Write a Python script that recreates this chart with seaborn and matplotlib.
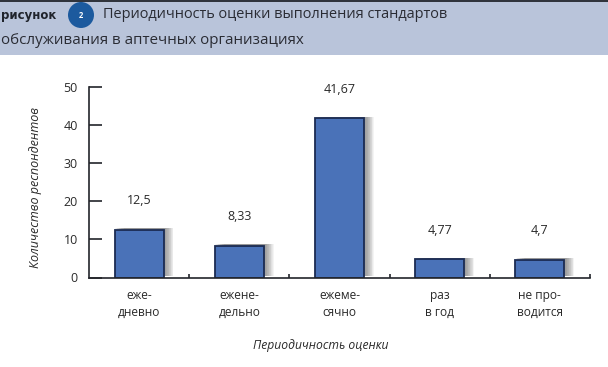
import matplotlib
matplotlib.use("Agg")
import matplotlib.pyplot as plt
import matplotlib.patheffects as pe
from matplotlib.patches import Rectangle, Circle
from matplotlib.ticker import FixedLocator
import seaborn as sns

categories = ["еже-\nдневно", "ежене-\nдельно", "ежеме-\nсячно", "раз\nв год", "не про-\nводится"]
values = [12.5, 8.33, 41.67, 4.77, 4.7]
value_labels = ["12,5", "8,33", "41,67", "4,77", "4,7"]
y_ticks = [0, 10, 20, 30, 40, 50]

W, H = 608, 367
TEXT = "#2a2a2a"
LINE = "#23252b"

sns.set_theme(style="white")
plt.rcParams["font.family"] = ["Open Sans", "DejaVu Sans"]

fig = plt.figure(figsize=(W / 100, H / 100), dpi=100, facecolor="white")
ax = fig.add_axes([89 / W, 1 - 277.5 / H, 501 / W, 190.8 / H])
ax.set_facecolor("none")

# шапка рисунка
fig.patches.append(Rectangle((0, 1 - 55 / H), 1, 55 / H, transform=fig.transFigure, color="#b9c4da", lw=0))
fig.patches.append(Rectangle((0, 1 - 2 / H), 1, 2 / H, transform=fig.transFigure, color="#30343c", lw=0))
fig.patches.append(Circle((81, H - 15), 13, transform=None, color="#1c5a9e", lw=0))
fig.text(81 / W, 1 - 15 / H, "2", color="white", fontsize=5.5, fontweight="bold", ha="center", va="center")
fig.text(1 / W, 1 - 15 / H, "рисунок", color="#20242c", fontsize=8.5, fontweight="bold", family="DejaVu Sans", va="center")
fig.text(103 / W, 1 - 15 / H, "Периодичность оценки выполнения стандартов", color="#2a2c34", fontsize=10.45, va="center")
fig.text(1 / W, 1 - 41 / H, "обслуживания в аптечных организациях", color="#2a2c34", fontsize=10.9, va="center")

sns.barplot(x=categories, y=values, width=0.49, color="#4a72b8", saturation=1,
            edgecolor="#1b2b52", linewidth=1.3, ax=ax)

# размытая тень справа от столбцов
shadow = [pe.SimplePatchShadow(offset=(d / 2, 1), shadow_rgbFace="#666666", alpha=0.07) for d in range(14, 0, -1)]
for bar in ax.patches:
    bar.set_path_effects(shadow + [pe.Normal()])

for i, (val, lab) in enumerate(zip(values, value_labels)):
    ax.annotate(lab, (i, val), xytext=(0, 21), textcoords="offset points",
                ha="center", va="center", fontsize=9, color=TEXT)

ax.set_xlim(-0.5, 4.5)
ax.set_ylim(0, 50)
ax.set_yticks(y_ticks)
ax.xaxis.set_minor_locator(FixedLocator([0.5, 1.5, 2.5, 3.5, 4.5]))
ax.tick_params(axis="y", direction="in", length=9, width=1.2, color=LINE, labelcolor=TEXT, labelsize=9, pad=8, left=True)
ax.tick_params(axis="x", which="major", length=0, pad=8, labelcolor=TEXT, labelsize=8.6)
ax.tick_params(axis="x", which="minor", direction="in", length=3, width=1.2, color=LINE, bottom=True)
for label in ax.get_xticklabels():
    label.set_linespacing(1.4)

ax.set_xlabel("Периодичность оценки", fontsize=8.7, style="italic", color=TEXT)
ax.xaxis.set_label_coords(0.462, -0.32)
ax.set_ylabel("Количество респондентов", fontsize=9, style="italic", color=TEXT)
ax.yaxis.set_label_coords(-0.094, 0.47)

sns.despine(ax=ax)
for side in ("left", "bottom"):
    ax.spines[side].set_color(LINE)
    ax.spines[side].set_linewidth(1.2)

fig.savefig("out.png", dpi=100)
